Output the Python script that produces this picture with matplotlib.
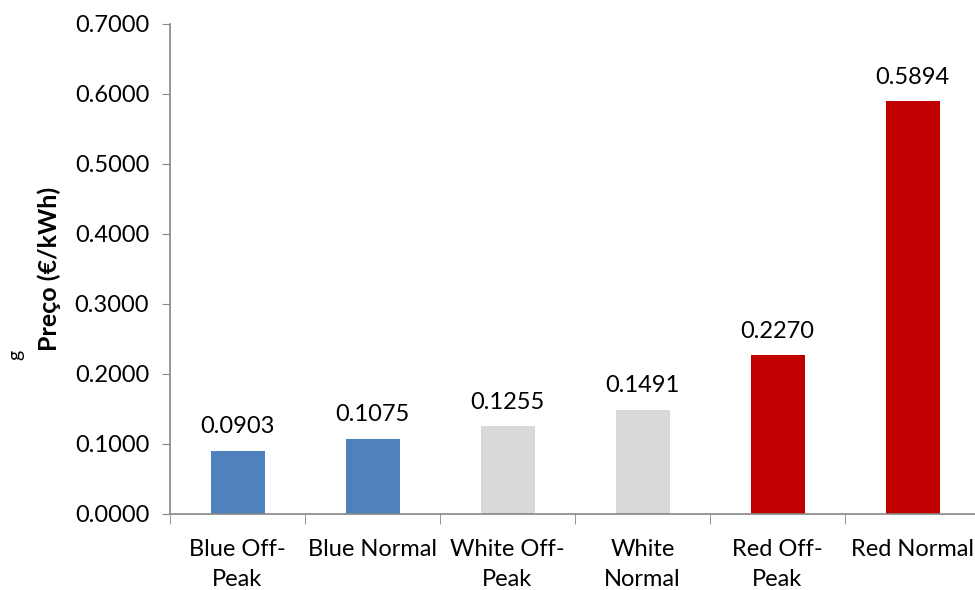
import numpy as np
import matplotlib.pyplot as plt
from matplotlib.ticker import MultipleLocator, FixedLocator

categories = ["Blue Off-\nPeak", "Blue Normal", "White Off-\nPeak", "White\nNormal", "Red Off-\nPeak", "Red Normal"]
prices = [0.0903, 0.1075, 0.1255, 0.1491, 0.2270, 0.5894]
colors = ["#4F81BD", "#4F81BD", "#D9D9D9", "#D9D9D9", "#C00000", "#C00000"]

plt.rcParams['font.family'] = ['Lato', 'DejaVu Sans']

fig = plt.figure(figsize=(9.75, 5.9), dpi=100)
ax = fig.add_axes([170/975, 76/590, 810/975, 490/590])

x = np.arange(len(prices))
ax.bar(x, prices, width=0.4, color=colors)
for xi, p in zip(x, prices):
    ax.text(xi, p + 0.019, "%.4f" % p, ha='center', va='bottom', fontsize=17)

ax.set_xlim(-0.5, len(prices) - 0.5)
ax.set_ylim(0, 0.7)
ax.yaxis.set_major_locator(MultipleLocator(0.1))
ax.yaxis.set_major_formatter(lambda v, pos: "%.4f" % v)

ax.set_xticks(x)
ax.set_xticklabels(categories, fontsize=17, linespacing=1.55)
ax.xaxis.set_minor_locator(FixedLocator(np.arange(-0.5, len(prices), 1.0)))
ax.tick_params(axis='x', which='major', length=0, pad=18)
ax.tick_params(axis='x', which='minor', length=7, color='#868686', direction='out')
ax.tick_params(axis='y', labelsize=17, length=6, color='#868686', pad=9)

for s in ['top', 'right']:
    ax.spines[s].set_visible(False)
for s in ['left', 'bottom']:
    ax.spines[s].set_color('#868686')
    ax.spines[s].set_linewidth(1.2)

ax.set_ylabel("Preço (€/kWh)", fontsize=18, fontweight='bold', labelpad=10)
fig.text(16/975, 1 - 355/590, "g", rotation=90, fontsize=14, ha='center', va='center')

fig.savefig("out.png", dpi=100)
